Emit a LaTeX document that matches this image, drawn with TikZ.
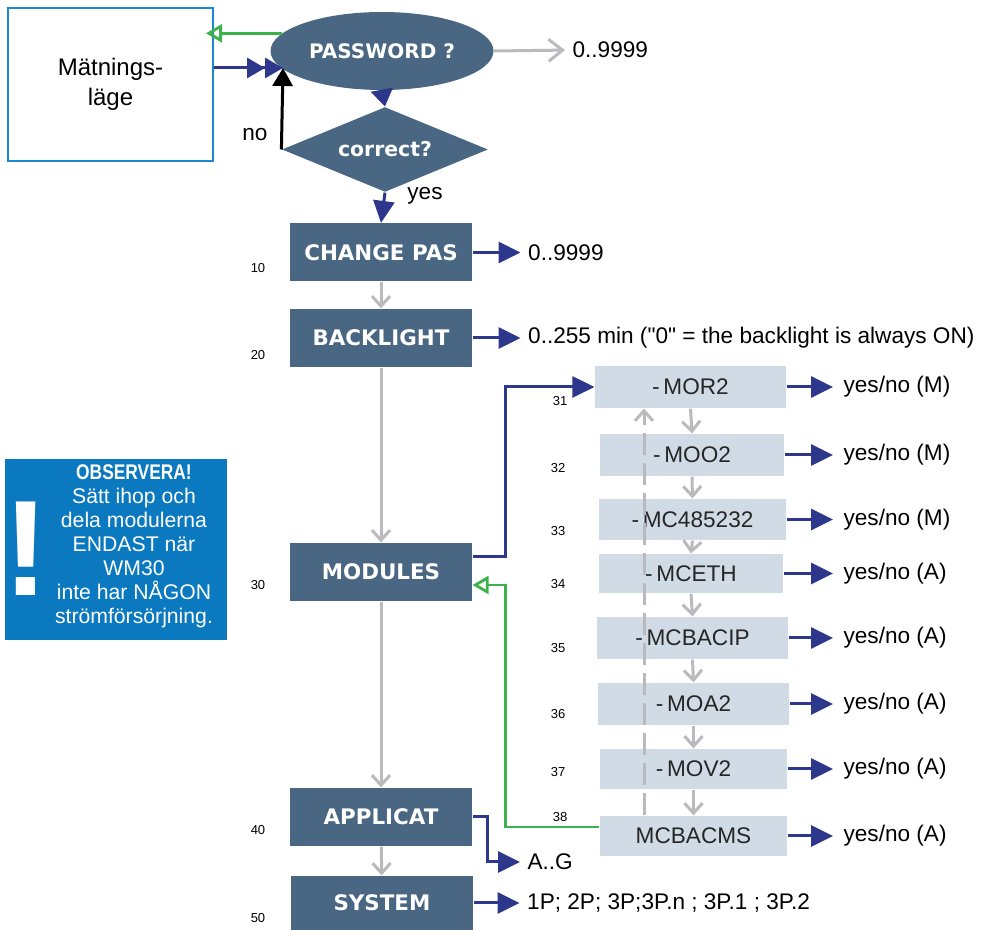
\documentclass[tikz,border=0pt]{standalone}
\usepackage{fontspec}
\setmainfont{Liberation Sans}[Ligatures=TeXOff]
\newfontfamily\headfont{DejaVu Sans}
\usepackage{xcolor}
\usetikzlibrary{arrows,arrows.meta,calc,positioning,shapes.geometric}

\definecolor{slate}{RGB}{73,102,130}
\definecolor{pale}{RGB}{208,219,229}
\definecolor{navy}{RGB}{45,55,140}
\definecolor{ash}{RGB}{186,186,190}
\definecolor{leaf}{RGB}{62,178,74}
\definecolor{sky}{RGB}{28,136,206}
\definecolor{alert}{RGB}{11,121,192}

\begin{document}
\begin{tikzpicture}[x=0.5pt,y=-0.5pt,semithick,node distance=27.5pt]
	\tikzstyle{menu}=[fill=slate, text=white, inner sep=0pt, minimum width=91pt, minimum height=29pt, font=\headfont\bfseries\fontsize{10.7}{12}\selectfont]
	\tikzstyle{submenu}=[fill=pale, text=black!85, inner sep=0pt, minimum width=93.5pt, minimum height=21pt, font=\fontsize{11.3}{13}\selectfont]
	\tikzstyle{val}=[inner sep=0pt, font=\fontsize{11.3}{13}\selectfont]
	\tikzstyle{num}=[inner sep=0pt, font=\fontsize{6.5}{8}\selectfont]
	\tikzstyle{blueline}=[draw=navy, line width=1.5pt, -{Triangle[length=11pt,width=10.5pt]}]
	\tikzstyle{grayline}=[draw=ash, line width=1.5pt, -{Straight Barb[length=5pt,width=9pt]}]
	\tikzstyle{greenline}=[draw=leaf, line width=1.4pt, -{Triangle[open,length=8pt,width=9pt]}]

	\useasboundingbox (0,0) rectangle (982,930);

	% password check
	\node[draw=sky, line width=1pt, minimum width=102.5pt, minimum height=76.5pt, align=center, font=\fontsize{12}{15}\selectfont] (mode) at (110.5,84.5) {Mätnings-\\läge};
	\node[ellipse, fill=slate, text=white, inner sep=0pt, minimum width=111.5pt, minimum height=39pt, font=\headfont\bfseries\fontsize{10}{12}\selectfont] (pw) at (382,51) {PASSWORD ?};
	\node[diamond, aspect=2.4, fill=slate, text=white, inner sep=0pt, minimum width=103pt, minimum height=42.5pt, font=\headfont\bfseries\fontsize{10.2}{12}\selectfont] (ok) at (385,149.5) {correct?};
	\node[val, anchor=west] (pwval) at (572,50) {0..9999};
	\node[val] (nolab) at (255,135) {no};
	\node[val] (yeslab) at (425,196) {yes};
	\coordinate (meet) at (283,68);

	% main menu
	\node[menu] (cp) at (381,252.5) {CHANGE PAS};
	\node[menu] (bl) at (381,338) {BACKLIGHT};
	\node[menu] (mod) at (381,572) {MODULES};
	\node[menu] (app) at (381,817) {APPLICAT};
	\node[menu, minimum height=27pt] (sys) at (382,903) {SYSTEM};

	\node[val, right=of cp] (cpval) {0..9999};
	\node[val, right=of bl] (blval) {0..255 min ("0" = the backlight is always ON)};
	\node[val, anchor=west] (agval) at (527,862) {A..G};
	\node[val, right=26.5pt of sys] (sysval) {1P; 2P; 3P;3P.n ; 3P.1 ; 3P.2};

	\node[num] (n10) at (258,268) {10};
	\node[num] (n20) at (258,355) {20};
	\node[num] (n30) at (258,585) {30};
	\node[num] (n40) at (258,830) {40};
	\node[num] (n50) at (258,918) {50};

	% modules
	\node[submenu, minimum width=95.5pt] (mor) at (690.5,387) {-\,MOR2};
	\node[submenu, minimum width=92pt] (moo) at (692,455) {-\,MOO2};
	\node[submenu, minimum height=20.5pt] (m485) at (692.5,519.5) {-\,MC485232};
	\node[submenu, minimum width=92pt, minimum height=19.5pt] (meth) at (691,573.5) {-\,MCETH};
	\node[submenu, minimum width=95.5pt] (mcip) at (692.5,638) {-\,MCBACIP};
	\node[submenu, minimum width=95.5pt] (moa) at (693.5,704) {-\,MOA2};
	\node[submenu, minimum height=20pt] (mov) at (693.5,769) {-\,MOV2};
	\node[submenu, minimum height=20pt] (cms) at (693.5,836) {MCBACMS};

	\node[val, anchor=west] (v31) at (843,387) {yes/no (M)};
	\node[val, anchor=west] (v32) at (843,455) {yes/no (M)};
	\node[val, anchor=west] (v33) at (843,519.5) {yes/no (M)};
	\node[val, anchor=west] (v34) at (843,573.5) {yes/no (A)};
	\node[val, anchor=west] (v35) at (843,638) {yes/no (A)};
	\node[val, anchor=west] (v36) at (843,704) {yes/no (A)};
	\node[val, anchor=west] (v37) at (843,769) {yes/no (A)};
	\node[val, anchor=west] (v38) at (843,836) {yes/no (A)};

	\node[num] (n31) at (560,401) {31};
	\node[num] (n32) at (558,468) {32};
	\node[num] (n33) at (558,531) {33};
	\node[num] (n34) at (558,584) {34};
	\node[num] (n35) at (558,648) {35};
	\node[num] (n36) at (558,714) {36};
	\node[num] (n37) at (558,772) {37};
	\node[num] (n38) at (560,817) {38};
	\coordinate (rail) at (644,0);

	% note
	\node[fill=alert, inner sep=0pt, minimum width=111pt, minimum height=90.5pt] (obs) at (116,549.5) {};
	\node[text=white, inner sep=0pt, font=\bfseries\fontsize{68}{68}\selectfont] (bang) at (26,549) {!};
	\node[text=white, align=center, inner sep=0pt, font=\fontsize{10.6}{12}\selectfont] (obstext) at (134,546) {\scalebox{0.82}[1]{\bfseries OBSERVERA!}\\Sätt ihop och\\dela modulerna\\ENDAST när\\WM30\\inte har NÅGON\\strömförsörjning.};

	% connectors
	\path (pw.170) edge[greenline, shorten >=-4pt] (mode.east |- pw.170);
	\draw[blueline, -{Triangle[length=9pt,width=10pt]Triangle[length=9pt,width=10pt]}] ([yshift=8.25pt]mode.east) -- (meet);
	\draw[line width=1.5pt, -{Triangle[length=9pt,width=10pt]}] (ok.west) -- (meet);
	\path (pw.south) edge[blueline, -{Triangle[length=8.5pt,width=11pt]}] (ok.north)
	      (ok.south) edge[blueline] (cp.north)
	      (pw.east) edge[grayline, -{Straight Barb[length=7pt,width=11pt]}, shorten >=3.5pt] (pwval.west);

	\path (cp) edge[grayline] (bl)
	      (bl) edge[grayline] (mod)
	      (mod) edge[grayline] (app)
	      (app) edge[grayline] (sys);
	\path (cp) edge[blueline, shorten >=3.5pt] (cpval)
	      (bl) edge[blueline, shorten >=3.5pt] (blval)
	      (sys) edge[blueline, shorten >=3.5pt] (sysval);
	\draw[blueline, shorten >=3.5pt] (app.east) -- ++(15,0) |- (agval.west);

	\draw[blueline] ([yshift=7.5pt]mod.east) -- ++(33,0) |- (mor.west);
	\draw[greenline] ([yshift=4.5pt]cms.west) -| ([xshift=16.5pt,yshift=-6.5pt]mod.east) -- ([yshift=-6.5pt]mod.east);

	\path (mor.south) edge[grayline] (moo.north)
	      (moo.south) edge[grayline] (m485.north)
	      (m485.south) edge[grayline] (meth.north)
	      (meth.south) edge[grayline] (mcip.north)
	      (mcip.south) edge[grayline] (moa.north)
	      (moa.south) edge[grayline] (mov.north)
	      (mov.south) edge[grayline] (cms.north);
	\draw[grayline, dash pattern=on 11pt off 4pt] (cms.north -| rail) -- (mor.south -| rail);

	\path (mor.east) edge[blueline, shorten >=5pt] (v31.west)
	      (moo.east) edge[blueline, shorten >=5pt] (v32.west)
	      (m485.east) edge[blueline, shorten >=5pt] (v33.west)
	      (meth.east) edge[blueline, shorten >=5pt] (v34.west)
	      (mcip.east) edge[blueline, shorten >=5pt] (v35.west)
	      (moa.east) edge[blueline, shorten >=5pt] (v36.west)
	      (mov.east) edge[blueline, shorten >=5pt] (v37.west)
	      (cms.east) edge[blueline, shorten >=5pt] (v38.west);
\end{tikzpicture}
\end{document}
